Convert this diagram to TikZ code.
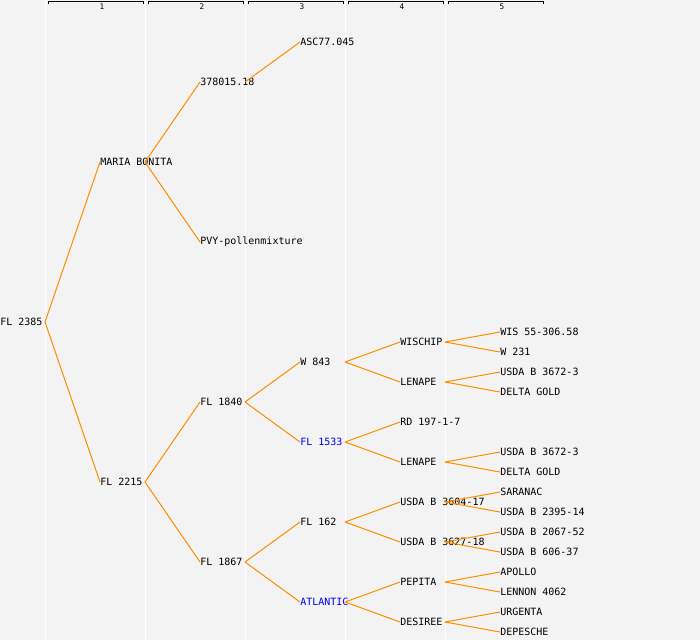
\documentclass[tikz,border=0pt]{standalone}
\usepackage{fontspec}
\setmonofont{DejaVu Sans Mono}
\definecolor{bggray}{RGB}{243,243,243}
\definecolor{linkorange}{RGB}{255,140,0}
\newcommand{\kid}[2]{\draw[link] ([xshift=33.75pt]#1.west) -- (#2.west);}

\begin{document}
\begin{tikzpicture}[x=0.75pt,y=-0.75pt,
		every node/.style={anchor=west,inner sep=0pt,font=\ttfamily\fontsize{7.5}{8}\selectfont},
		hl/.style={text=blue},
		link/.style={draw=linkorange,line width=0.75pt}]
				\fill[bggray] (0,0) rectangle (700,640);
				\useasboundingbox (0,0) rectangle (700,640);
				\foreach \i in {0,...,4} {
					\draw[white,line width=0.75pt] (\i*100+45,0) -- (\i*100+45,640);
					\draw[black,line width=0.75pt] (\i*100+48,4) -- (\i*100+48,1.3) -- (\i*100+143,1.3) -- (\i*100+143,4);
				}
				\foreach \i in {1,...,5}
					\node[anchor=center,font=\ttfamily\fontsize{5.8}{6}\selectfont] (col\i) at (\i*100-100+102,6.8) {\i};

				% generation 1 and 2
				\node (fl2385) at (0,322) {FL 2385};
				\node (mariabonita) at (100,162) {MARIA BONITA};
				\node (fl2215) at (100,482) {FL 2215};

				% generation 3
				\node (n378015) at (200,82) {378015.18};
				\node (pvy) at (200,242) {PVY-pollenmixture};
				\node (fl1840) at (200,402) {FL 1840};
				\node (fl1867) at (200,562) {FL 1867};

				% generation 4
				\node (asc77) at (300,42) {ASC77.045};
				\node (w843) at (300,362) {W 843};
				\node[hl] (fl1533) at (300,442) {FL 1533};
				\node (fl162) at (300,522) {FL 162};
				\node[hl] (atlantic) at (300,602) {ATLANTIC};

				% generation 5
				\node (wischip) at (400,342) {WISCHIP};
				\node (lenapeA) at (400,382) {LENAPE};
				\node (rd197) at (400,422) {RD 197-1-7};
				\node (lenapeB) at (400,462) {LENAPE};
				\node (usda3604) at (400,502) {USDA B 3604-17};
				\node (usda3627) at (400,542) {USDA B 3627-18};
				\node (pepita) at (400,582) {PEPITA};
				\node (desiree) at (400,622) {DESIREE};

				% generation 6
				\node (wis55) at (500,332) {WIS 55-306.58};
				\node (w231) at (500,352) {W 231};
				\node (usda3672A) at (500,372) {USDA B 3672-3};
				\node (deltagoldA) at (500,392) {DELTA GOLD};
				\node (usda3672B) at (500,452) {USDA B 3672-3};
				\node (deltagoldB) at (500,472) {DELTA GOLD};
				\node (saranac) at (500,492) {SARANAC};
				\node (usda2395) at (500,512) {USDA B 2395-14};
				\node (usda2067) at (500,532) {USDA B 2067-52};
				\node (usda606) at (500,552) {USDA B 606-37};
				\node (apollo) at (500,572) {APOLLO};
				\node (lennon) at (500,592) {LENNON 4062};
				\node (urgenta) at (500,612) {URGENTA};
				\node (depesche) at (500,632) {DEPESCHE};

				\kid{fl2385}{mariabonita}
				\kid{fl2385}{fl2215}
				\kid{mariabonita}{n378015}
				\kid{mariabonita}{pvy}
				\kid{n378015}{asc77}
				\kid{fl2215}{fl1840}
				\kid{fl2215}{fl1867}
				\kid{fl1840}{w843}
				\kid{fl1840}{fl1533}
				\kid{fl1867}{fl162}
				\kid{fl1867}{atlantic}
				\kid{w843}{wischip}
				\kid{w843}{lenapeA}
				\kid{fl1533}{rd197}
				\kid{fl1533}{lenapeB}
				\kid{fl162}{usda3604}
				\kid{fl162}{usda3627}
				\kid{atlantic}{pepita}
				\kid{atlantic}{desiree}
				\kid{wischip}{wis55}
				\kid{wischip}{w231}
				\kid{lenapeA}{usda3672A}
				\kid{lenapeA}{deltagoldA}
				\kid{lenapeB}{usda3672B}
				\kid{lenapeB}{deltagoldB}
				\kid{usda3604}{saranac}
				\kid{usda3604}{usda2395}
				\kid{usda3627}{usda2067}
				\kid{usda3627}{usda606}
				\kid{pepita}{apollo}
				\kid{pepita}{lennon}
				\kid{desiree}{urgenta}
				\kid{desiree}{depesche}
			\end{tikzpicture}
\end{document}
